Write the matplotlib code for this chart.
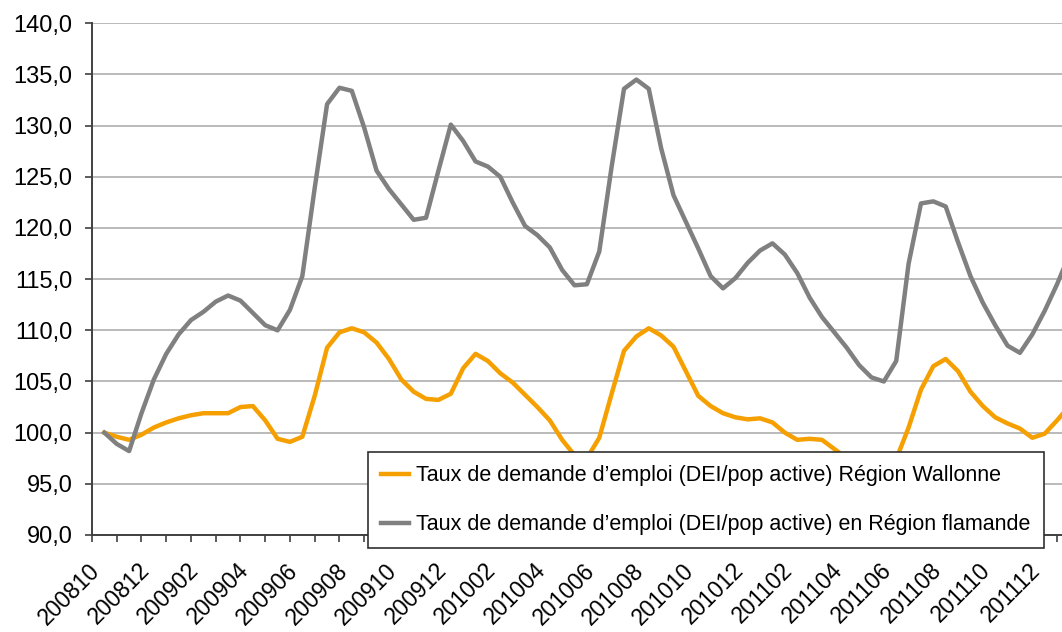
import matplotlib
matplotlib.use('Agg')
import matplotlib.pyplot as plt
import matplotlib.transforms as mtransforms
from matplotlib.ticker import FixedLocator, FuncFormatter

# half-month steps, 0 = 200810
t = [i * 0.5 for i in range(79)]

month_labels = ['200810', '200812', '200902', '200904', '200906', '200908',
                '200910', '200912', '201002', '201004', '201006', '201008',
                '201010', '201012', '201102', '201104', '201106', '201108',
                '201110', '201112']

wallonie = [100.0, 99.6, 99.3, 99.8, 100.5, 101.0, 101.4, 101.7, 101.9, 101.9,
            101.9, 102.5, 102.6, 101.2, 99.4, 99.1, 99.6, 103.6, 108.3, 109.8,
            110.2, 109.8, 108.8, 107.2, 105.2, 104.0, 103.3, 103.2, 103.8, 106.3,
            107.7, 107.0, 105.8, 104.9, 103.7, 102.5, 101.2, 99.3, 97.8, 97.5,
            99.5, 103.8, 108.0, 109.4, 110.2, 109.5, 108.4, 106.0, 103.6, 102.6,
            101.9, 101.5, 101.3, 101.4, 101.0, 100.0, 99.3, 99.4, 99.3, 98.4,
            97.5, 97.0, 96.8, 96.9, 97.4, 100.5, 104.2, 106.5, 107.2, 106.0,
            104.0, 102.6, 101.5, 100.9, 100.4, 99.5, 99.9, 101.2, 102.6]

flandre = [100.0, 98.9, 98.2, 101.9, 105.2, 107.7, 109.6, 111.0, 111.8, 112.8,
           113.4, 112.9, 111.7, 110.5, 110.0, 112.0, 115.3, 123.9, 132.1, 133.7,
           133.4, 129.8, 125.6, 123.8, 122.3, 120.8, 121.0, 125.6, 130.1, 128.5,
           126.5, 126.0, 125.0, 122.5, 120.2, 119.3, 118.1, 115.9, 114.4, 114.5,
           117.7, 126.0, 133.6, 134.5, 133.6, 127.8, 123.2, 120.6, 118.0, 115.3,
           114.1, 115.1, 116.6, 117.8, 118.5, 117.4, 115.6, 113.2, 111.3, 109.8,
           108.3, 106.6, 105.4, 105.0, 107.0, 116.5, 122.4, 122.6, 122.1, 118.6,
           115.3, 112.7, 110.5, 108.5, 107.8, 109.6, 111.9, 114.5, 117.4]

plt.rcParams['font.family'] = ['Liberation Sans', 'DejaVu Sans']

fig = plt.figure(figsize=(10.62, 6.32), dpi=100)
ax = fig.add_axes([92 / 1062, 1 - 535 / 632, 1 - 92 / 1062, (535 - 23.3) / 632])

ax.plot(t, wallonie, color='#F5A000', lw=3.2, solid_joinstyle='round',
        label='Taux de demande d’emploi (DEI/pop active) Région Wallonne')
ax.plot(t, flandre, color='#808080', lw=3.2, solid_joinstyle='round',
        label='Taux de demande d’emploi (DEI/pop active) en Région flamande')

ax.set_ylim(90, 140)
ax.set_xlim(-0.5, 38.7)
ax.set_yticks(range(90, 141, 5))
ax.yaxis.set_major_formatter(FuncFormatter(lambda v, p: f'{v:.1f}'.replace('.', ',')))
ax.grid(axis='y', color='#b4b4b4', lw=1.3)
ax.set_axisbelow(True)

ax.xaxis.set_major_locator(FixedLocator([2 * i for i in range(len(month_labels))]))
ax.set_xticklabels(month_labels)
ax.xaxis.set_minor_locator(FixedLocator([i - 0.5 for i in range(40)]))
ax.tick_params(axis='x', which='major', length=0, pad=23, labelsize=16.5,
               labelrotation=45)
ax.tick_params(axis='x', which='minor', length=5, width=1.2, color='#404040')
ax.tick_params(axis='y', length=5, width=1.2, color='#404040', pad=9, labelsize=17)
offset = mtransforms.ScaledTranslation(-8 / 100, 0, fig.dpi_scale_trans)
for lab in ax.get_xticklabels():
    lab.set_ha('right')
    lab.set_va('center')
    lab.set_rotation_mode('anchor')
    lab.set_transform(lab.get_transform() + offset)

for s in ['top', 'right']:
    ax.spines[s].set_visible(False)
for s in ['left', 'bottom']:
    ax.spines[s].set_color('#404040')
    ax.spines[s].set_linewidth(1.4)

leg = ax.legend(loc='lower left', bbox_to_anchor=(368 / 1062, 1 - 548 / 632),
                bbox_transform=fig.transFigure, fontsize=15.5, frameon=True,
                fancybox=False, borderpad=0.6, labelspacing=1.3,
                handlelength=1.3, handletextpad=0.35, borderaxespad=0)
leg.get_frame().set_edgecolor('#303030')
leg.get_frame().set_linewidth(1.2)
leg.get_frame().set_alpha(1)

fig.savefig('out.png', dpi=100)
